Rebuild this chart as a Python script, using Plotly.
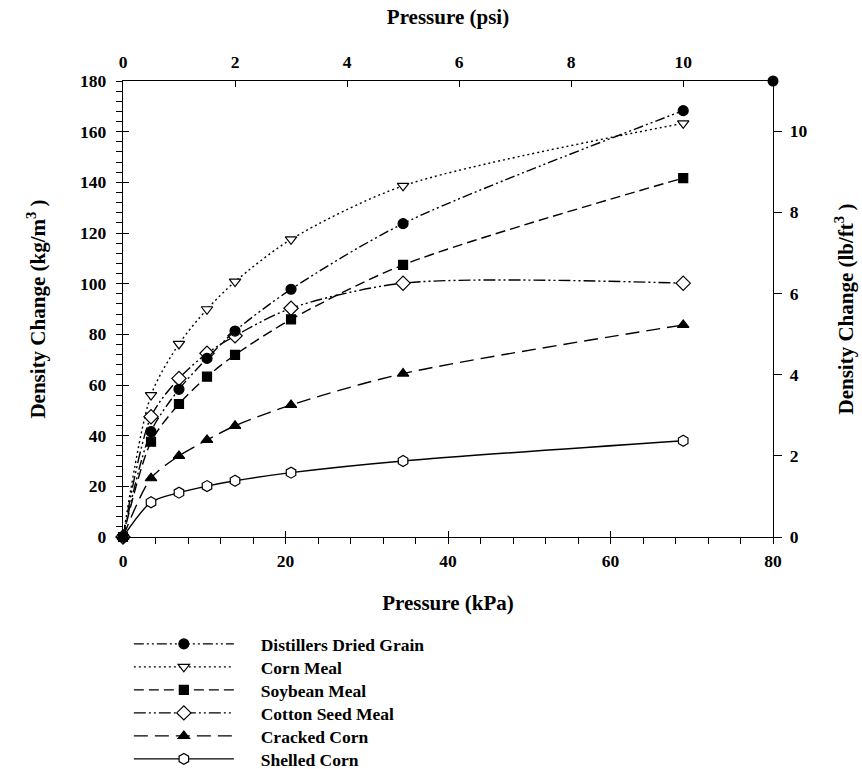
import plotly.graph_objects as go

# Data (pressure in kPa, density change in kg/m^3)
pressure_kpa = [0, 3.45, 6.89, 10.34, 13.79, 20.68, 34.47, 68.95]
ddg = [0, 41.6, 58.3, 70.5, 81.3, 97.8, 123.7, 168.3]
corn_meal = [0, 56.0, 76.2, 89.9, 100.8, 117.5, 138.6, 163.3]
soybean_meal = [0, 37.6, 52.5, 63.3, 71.9, 85.9, 107.4, 141.7]
cotton_seed_meal = [0, 47.5, 62.6, 72.5, 79.4, 90.3, 100.2, 100.2]
cracked_corn = [0, 23.2, 32.0, 38.3, 43.9, 52.1, 64.5, 83.7]
shelled_corn = [0, 13.7, 17.5, 20.1, 22.2, 25.4, 30.0, 38.0]
series_names = ["Distillers Dried Grain", "Corn Meal", "Soybean Meal",
                "Cotton Seed Meal", "Cracked Corn", "Shelled Corn"]
corner_marker_x = [80]
corner_marker_y = [180]

KPA_PER_PSI = 6.894757
KGM3_PER_LBFT3 = 16.01846

values = [ddg, corn_meal, soybean_meal, cotton_seed_meal, cracked_corn, shelled_corn]
styles = [
    ("circle", "black", "10px,3px,2px,3px,2px,3px", 10),
    ("triangle-down", "white", "2px,3px", 10),
    ("square", "black", "10px,5px", 9),
    ("diamond", "white", "12px,3px,2px,3px,2px,3px", 11),
    ("triangle-up", "black", "14px,7px", 10),
    ("hexagon", "white", "solid", 11),
]

font_family = "Liberation Serif"
fig = go.Figure()

legend_ids = ["legend", "legend2", "legend3", "legend4", "legend5", "legend6"]
pad = "\u00a0" * 5

# draw in reverse so DDG markers end on top
for i in reversed(range(len(series_names))):
    sym, fill, dash, msize = styles[i]
    fig.add_trace(go.Scatter(
        x=pressure_kpa, y=values[i], name=pad + series_names[i],
        mode="lines+markers",
        line=dict(color="black", width=1.4, dash=dash, shape="spline", smoothing=0.8),
        marker=dict(symbol=sym, size=msize, color=fill, line=dict(color="black", width=1.2)),
        legend=legend_ids[i], cliponaxis=False,
    ))

fig.add_trace(go.Scatter(
    x=corner_marker_x, y=corner_marker_y, mode="markers", showlegend=False,
    marker=dict(symbol="circle", size=11, color="black"), cliponaxis=False,
))

# invisible traces to activate extra axes
for xa, ya in [("x2", "y2"), ("x3", "y3")]:
    fig.add_trace(go.Scatter(x=[0], y=[0], xaxis=xa, yaxis=ya, mode="markers",
                             marker=dict(opacity=0), showlegend=False, hoverinfo="skip"))

tickfont = dict(family=font_family, size=17.5, color="black", weight="bold")
titlefont = dict(family=font_family, size=21, color="black", weight="bold")

common = dict(showgrid=False, zeroline=False, showline=True, linecolor="black",
              linewidth=1.3, tickcolor="black", tickwidth=1.3, automargin=False)

layout_legends = {}
plot_top, plot_bottom = 81, 537
ph = plot_bottom - plot_top
for i, lid in enumerate(legend_ids):
    row_px = 644 + 23 * i
    layout_legends[lid] = dict(
        x=0.009, xanchor="left", y=(plot_bottom - row_px) / ph, yanchor="middle",
        bgcolor="rgba(0,0,0,0)", itemwidth=100, borderwidth=0,
        font=dict(family=font_family, size=17.5, color="black", weight="bold"),
    )

tail = "\u00a0" * 3

fig.update_layout(
    width=862, height=769,
    margin=dict(l=123, r=89, t=81, b=232, autoexpand=False),
    plot_bgcolor="white", paper_bgcolor="white",
    font=dict(family=font_family, color="black"),
    xaxis=dict(
        range=[0, 80], dtick=20, tick0=0, ticks="outside", ticklen=6,
        minor=dict(dtick=4, ticks="outside", ticklen=6, tickwidth=1.2, tickcolor="black"),
        tickfont=tickfont, ticklabelstandoff=2,
        title=dict(text="Pressure (kPa)" + tail, font=titlefont, standoff=25),
        **common,
    ),
    xaxis3=dict(
        range=[0, 80], dtick=20, tick0=0, overlaying="x", side="bottom",
        ticks="inside", ticklen=6, showticklabels=False, **common,
    ),
    xaxis2=dict(
        range=[0, 80 / KPA_PER_PSI], dtick=2, tick0=0, overlaying="x", side="top",
        ticks="inside", ticklen=6, tickfont=tickfont, ticklabelstandoff=5,
        title=dict(text="Pressure (psi)" + tail, font=titlefont, standoff=21),
        **common,
    ),
    yaxis=dict(
        range=[0, 180], dtick=20, tick0=0, ticks="outside", ticklen=6,
        minor=dict(dtick=4, ticks="outside", ticklen=6, tickwidth=1.2, tickcolor="black"),
        tickfont=tickfont, ticklabelstandoff=6,
        title=dict(text="Density Change (kg/m<sup>3</sup> )", font=titlefont, standoff=28),
        **common,
    ),
    yaxis3=dict(
        range=[0, 180], dtick=20, tick0=0, overlaying="y", side="left",
        ticks="inside", ticklen=6, showticklabels=False, **common,
    ),
    yaxis2=dict(
        range=[0, 180 / KGM3_PER_LBFT3], dtick=2, tick0=0, overlaying="y", side="right",
        ticks="outside", ticklen=8, tickfont=tickfont, ticklabelstandoff=4,
        title=dict(text="Density Change (lb/ft<sup>3</sup> )", font=titlefont, standoff=31),
        **common,
    ),
    showlegend=True,
    **layout_legends,
)

fig.write_html("out.html", config={"displayModeBar": False},
               post_script="document.body.style.margin='0';")
